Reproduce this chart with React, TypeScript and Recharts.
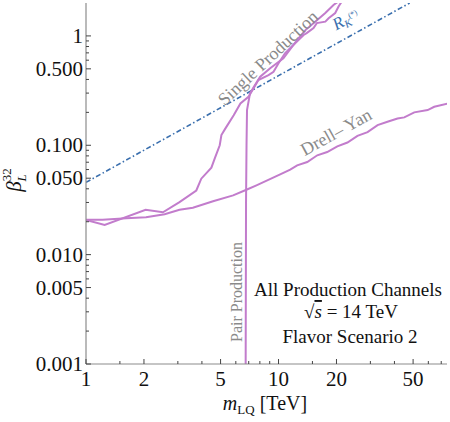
import { LineChart, Line, XAxis, YAxis } from 'recharts';

// axis ticks (Mathematica-style log frame)
const xMajor = [1, 2, 5, 10, 20, 50];
const xMinor = [1.5, 3, 4, 6, 7, 8, 9, 15, 30, 40, 60, 70];
const yMajor = [0.001, 0.005, 0.01, 0.05, 0.1, 0.5, 1];
const yMajorLabels = ['0.001', '0.005', '0.010', '0.050', '0.100', '0.500', '1'];
const yMinor = [
  0.002, 0.003, 0.004, 0.006, 0.007, 0.008, 0.009,
  0.02, 0.03, 0.04, 0.06, 0.07, 0.08, 0.09,
  0.2, 0.3, 0.4, 0.6, 0.7, 0.8, 0.9,
];

// [m_LQ (TeV), beta_L^32]
const drellYan = [
  [1.0, 0.0208], [1.22, 0.0208], [1.62, 0.0215], [2.05, 0.022], [2.56, 0.0234],
  [3.06, 0.0257], [3.59, 0.0268], [4.57, 0.0308], [5.81, 0.0348], [6.81, 0.0392],
  [7.68, 0.043], [10.2, 0.0542], [11.5, 0.0598], [12.5, 0.0656], [14.1, 0.0703],
  [15.9, 0.081], [17.9, 0.0868], [20.2, 0.0979], [22.8, 0.106], [25.7, 0.122],
  [29.0, 0.132], [32.7, 0.153], [36.8, 0.164], [41.5, 0.176], [45.0, 0.18],
  [50.7, 0.2], [59.5, 0.21], [64.4, 0.225], [75.6, 0.241],
];

const singleProd = [
  [1.0, 0.0208], [1.25, 0.0187], [2.04, 0.0257], [2.51, 0.0244], [3.06, 0.0302],
  [3.74, 0.0386], [3.97, 0.0495], [4.48, 0.0624], [4.66, 0.0755], [4.95, 0.1],
  [5.05, 0.124], [5.29, 0.142], [5.85, 0.188], [6.34, 0.241], [6.98, 0.277],
  [7.41, 0.331], [7.86, 0.395], [8.87, 0.439], [9.42, 0.47], [10.0, 0.562],
  [10.8, 0.694], [12.2, 0.857], [13.5, 1.02], [14.0, 1.06], [15.2, 1.18],
  [15.8, 1.31], [17.5, 1.35], [18.2, 1.45], [19.7, 1.62], [20.5, 1.86], [21.3, 2.06],
];

const pairProd = [
  [6.75, 0.001], [6.78, 0.03], [6.82, 0.1], [6.86, 0.21], [7.11, 0.298],
  [7.41, 0.338], [8.03, 0.423], [9.05, 0.506], [10.6, 0.624], [12.5, 0.919],
  [13.8, 1.13], [15.5, 1.35], [17.5, 1.62], [19.3, 1.92], [20.5, 2.07],
];

const rkLine = [[1, 0.0458], [10, 0.433], [48, 2.0]];

const toRows = (pts: number[][]) => pts.map(([m, b]) => ({ m, b }));

const SERIF = '"Liberation Serif", "Times New Roman", serif';
const PURPLE = '#c27ccc';
const BLUE = '#3a6fae';
const LABEL_GRAY = '#8a8a8a';
const FRAME = '#8c8c8c';
const TICK = '#444';

function BottomTick({ x, y, payload }: any) {
  const major = xMajor.includes(payload.value);
  return (
    <g>
      <line x1={x} x2={x} y1={y} y2={y - (major ? 5 : 3)} stroke={TICK} />
      {major && (
        <text x={x} y={y + 22} textAnchor="middle" fontSize={21} fontFamily={SERIF} fill="#111">
          {payload.value}
        </text>
      )}
    </g>
  );
}

function TopTick({ x, y, payload }: any) {
  const major = xMajor.includes(payload.value);
  return <line x1={x} x2={x} y1={y} y2={y + (major ? 5 : 3)} stroke={TICK} />;
}

function LeftTick({ x, y, payload }: any) {
  const i = yMajor.indexOf(payload.value);
  return (
    <g>
      <line x1={x} x2={x + (i >= 0 ? 5 : 3)} y1={y} y2={y} stroke={TICK} />
      {i >= 0 && (
        <text x={x - 3} y={y + 7} textAnchor="end" fontSize={21} fontFamily={SERIF} fill="#111">
          {yMajorLabels[i]}
        </text>
      )}
    </g>
  );
}

function RightTick({ x, y, payload }: any) {
  const major = yMajor.includes(payload.value);
  return <line x1={x} x2={x - (major ? 5 : 3)} y1={y} y2={y} stroke={TICK} />;
}

const W = 450;
const H = 422;

export default function App() {
  const xTicks = [...xMajor, ...xMinor].sort((a, b) => a - b);
  const yTicks = [...yMajor, ...yMinor].sort((a, b) => a - b);

  return (
    <div style={{ position: 'absolute', left: 0, top: 0, width: W, height: H, background: '#fff' }}>
      <LineChart width={W} height={H} margin={{ top: 3, right: 3, left: 0, bottom: 0 }}>
        <XAxis
          xAxisId="b"
          dataKey="m"
          type="number"
          scale="log"
          domain={[1, 75]}
          allowDataOverflow
          ticks={xTicks}
          interval={0}
          height={58}
          tickSize={0}
          tickMargin={0}
          tickLine={false}
          axisLine={{ stroke: FRAME, strokeWidth: 1.2 }}
          tick={<BottomTick />}
        />
        <XAxis
          xAxisId="t"
          orientation="top"
          dataKey="m"
          type="number"
          scale="log"
          domain={[1, 75]}
          allowDataOverflow
          ticks={xTicks}
          interval={0}
          height={0}
          tickSize={0}
          tickMargin={0}
          tickLine={false}
          axisLine={{ stroke: FRAME, strokeWidth: 1.2 }}
          tick={<TopTick />}
        />
        <YAxis
          yAxisId="l"
          dataKey="b"
          type="number"
          scale="log"
          domain={[0.001, 2]}
          allowDataOverflow
          ticks={yTicks}
          interval={0}
          width={86}
          tickSize={0}
          tickMargin={0}
          tickLine={false}
          axisLine={{ stroke: FRAME, strokeWidth: 1.2 }}
          tick={<LeftTick />}
        />
        <YAxis
          yAxisId="r"
          orientation="right"
          dataKey="b"
          type="number"
          scale="log"
          domain={[0.001, 2]}
          allowDataOverflow
          ticks={yTicks}
          interval={0}
          width={0}
          tickSize={0}
          tickMargin={0}
          tickLine={false}
          axisLine={{ stroke: FRAME, strokeWidth: 1.2 }}
          tick={<RightTick />}
        />
        <Line
          xAxisId="b"
          yAxisId="l"
          data={toRows(rkLine)}
          dataKey="b"
          stroke={BLUE}
          strokeWidth={1.6}
          strokeDasharray="5 2.5 1.5 2.5"
          dot={false}
          isAnimationActive={false}
        />
        <Line
          xAxisId="b"
          yAxisId="l"
          data={toRows(drellYan)}
          dataKey="b"
          stroke={PURPLE}
          strokeWidth={2}
          dot={false}
          isAnimationActive={false}
        />
        <Line
          xAxisId="b"
          yAxisId="l"
          data={toRows(singleProd)}
          dataKey="b"
          stroke={PURPLE}
          strokeWidth={2}
          dot={false}
          isAnimationActive={false}
        />
        <Line
          xAxisId="b"
          yAxisId="l"
          data={toRows(pairProd)}
          dataKey="b"
          stroke={PURPLE}
          strokeWidth={2}
          dot={false}
          isAnimationActive={false}
        />
      </LineChart>

      {/* annotations */}
      <svg
        width={W}
        height={H}
        style={{ position: 'absolute', left: 0, top: 0, pointerEvents: 'none' }}
        fontFamily={SERIF}
      >
        <text transform="translate(268,58) rotate(-43)" textAnchor="middle" dominantBaseline="central" fontSize={18} fill={LABEL_GRAY}>
          Single Production
        </text>
        <text transform="translate(336,132) rotate(-29)" textAnchor="middle" dominantBaseline="central" fontSize={18} fill={LABEL_GRAY}>
          Drell– Yan
        </text>
        <text transform="translate(236,292) rotate(-90)" textAnchor="middle" dominantBaseline="central" fontSize={16} fill={LABEL_GRAY}>
          Pair Production
        </text>
        <text transform="translate(348,24) rotate(-29)" textAnchor="middle" fill={BLUE} fontSize={17}>
          <tspan fontStyle="italic">R</tspan>
          <tspan fontStyle="italic" fontSize={11} dy={3}>K</tspan>
          <tspan fontSize={8} dy={-7}>(*)</tspan>
        </text>

        <text x={348} y={296} textAnchor="middle" fontSize={19} fill="#111">All Production Channels</text>
        <text x={351} y={318} textAnchor="middle" fontSize={19} fill="#111">
          √<tspan fontStyle="italic" textDecoration="overline">s</tspan> = 14 TeV
        </text>
        <text x={350} y={343} textAnchor="middle" fontSize={19} fill="#111">Flavor Scenario 2</text>

        <text transform="translate(21,180) rotate(-90)" textAnchor="middle" fontSize={21} fill="#111">
          <tspan fontStyle="italic">β</tspan>
          <tspan fontStyle="italic" fontSize={13} dy={5}>L</tspan>
          <tspan fontSize={13} dx={-7} dy={-15}>32</tspan>
        </text>
        <text x={265} y={410} textAnchor="middle" fontSize={20} fill="#111">
          <tspan fontStyle="italic">m</tspan>
          <tspan fontSize={13} dy={4}>LQ</tspan>
          <tspan dy={-4}> [TeV]</tspan>
        </text>
      </svg>
    </div>
  );
}
